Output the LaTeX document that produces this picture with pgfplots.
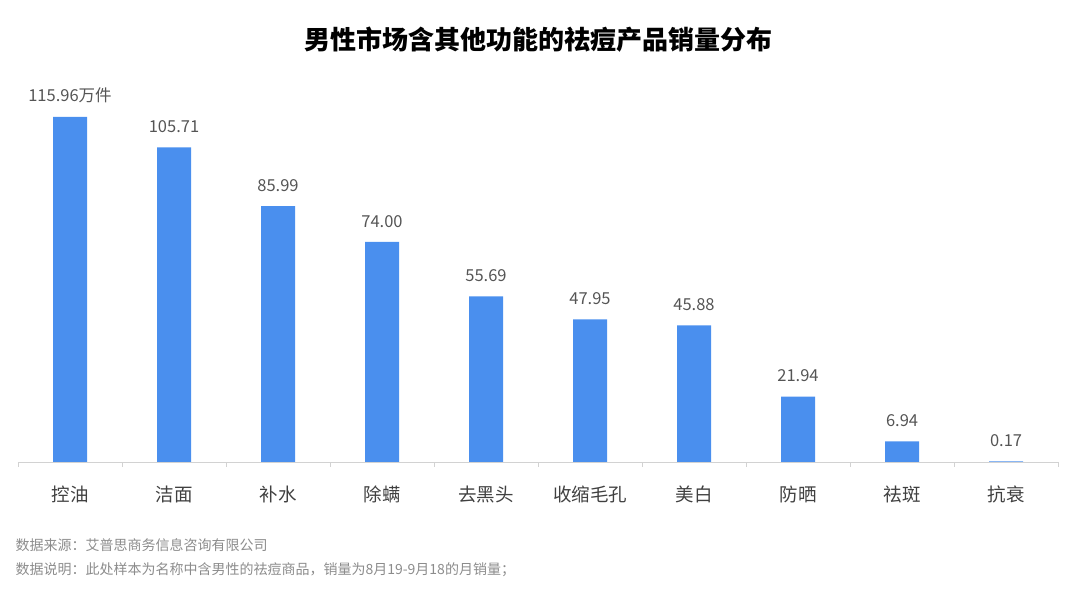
\documentclass[border=0pt]{standalone}
\usepackage{pgfplots}
\pgfplotsset{compat=1.18}
\usepackage{fontspec}
\setmainfont{Noto Sans CJK SC}
\definecolor{barblue}{RGB}{74,143,238}
\definecolor{lblgray}{RGB}{85,85,85}
\definecolor{catgray}{RGB}{64,64,64}
\definecolor{notegray}{RGB}{140,140,140}
\definecolor{axgray}{RGB}{210,210,210}
\begin{document}
\begin{tikzpicture}[x=1pt,y=1pt]
\path[use as bounding box] (0,0) rectangle (1080,591);
\begin{axis}[
  at={(18pt,129pt)}, anchor=south west,
  scale only axis, width=1040pt, height=386.8pt,
  xmin=-0.5, xmax=9.5, ymin=0, ymax=130,
  axis x line=bottom, axis y line=none,
  axis line style={axgray, line width=0.8pt, -},
  xtick={0,...,9},
  xticklabels={控油,洁面,补水,除螨,去黑头,收缩毛孔,美白,防晒,祛斑,抗衰},
  major tick length=0pt,
  minor xtick={-0.5,0.5,...,9.5},
  minor tick length=5pt,
  tick align=outside,
  minor tick style={axgray, line width=0.8pt},
  xticklabel style={font=\fontsize{18.5}{20}\selectfont, text=catgray, yshift=-20pt},
  ybar, bar width=34pt,
  nodes near coords,
  point meta=explicit symbolic,
  every node near coord/.append style={font=\fontsize{16.5}{18}\selectfont, text=lblgray, yshift=11pt},
  clip=false,
]
\addplot[fill=barblue, draw=none] coordinates {
(0,115.96) [115.96万件]
(1,105.71) [105.71]
(2,85.99) [85.99]
(3,74.00) [74.00]
(4,55.69) [55.69]
(5,47.95) [47.95]
(6,45.88) [45.88]
(7,21.94) [21.94]
(8,6.94) [6.94]
(9,0.17) [0.17]
};
\end{axis}
\node[font=\fontsize{26}{28}\selectfont\bfseries] at (538,551) {男性市场含其他功能的祛痘产品销量分布};
\node[anchor=west, font=\fontsize{14}{16}\selectfont, text=notegray] at (12,46) {数据来源：艾普思商务信息咨询有限公司};
\node[anchor=west, font=\fontsize{14}{16}\selectfont, text=notegray] at (12,21) {数据说明：此处样本为名称中含男性的祛痘商品，销量为8月19-9月18的月销量；};
\end{tikzpicture}
\end{document}
